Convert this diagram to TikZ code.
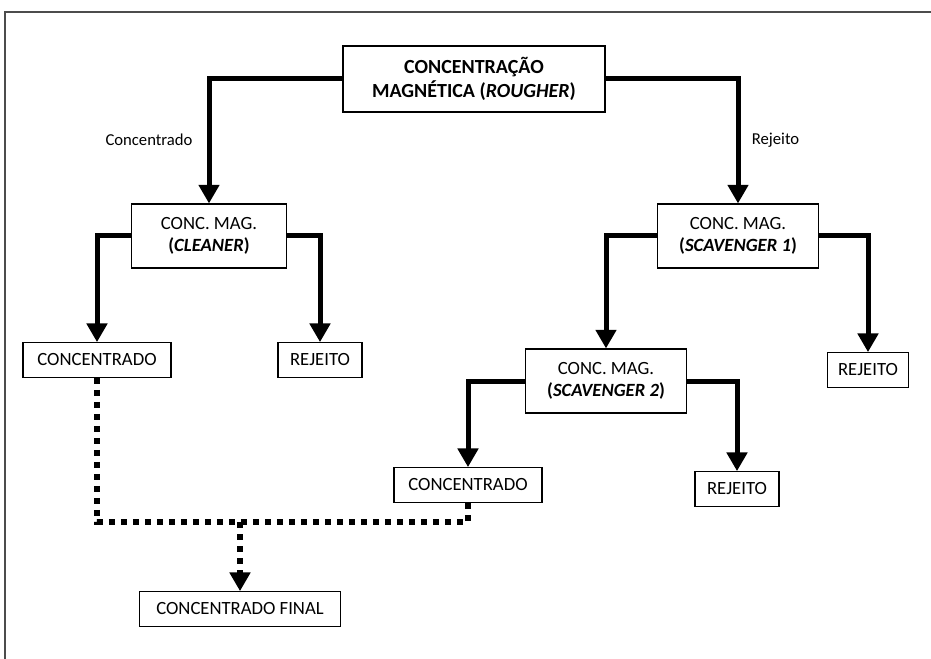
\documentclass[tikz,border=0pt]{standalone}
\usepackage{fontspec}
\setmainfont{Carlito}
\usetikzlibrary{arrows.meta}
\begin{document}
\begin{tikzpicture}[x=0.75pt, y=-0.75pt,
		every node/.style={draw, thick, align=center, font=\fontsize{14}{16.5}\selectfont, inner sep=2pt},
		flow/.style={line width=3.75pt, -{Triangle[width=15pt,length=14pt]}},
		drop/.style={line width=4.5pt, dash pattern=on 4.5pt off 4.5pt, -{Triangle[width=15pt,length=14pt]}},
		tag/.style={draw=none, font=\fontsize{12.5}{14}\selectfont}]
		\useasboundingbox (0,0) rectangle (931,659);
		\draw[line width=1.5pt, gray!60!black] (931,12) -- (5,12) -- (5,659);
		\node[minimum width=196.5pt, minimum height=49.5pt, font=\bfseries\fontsize{15}{17.5}\selectfont] (rougher) at (474,79) {CONCENTRAÇÃO\\MAGNÉTICA (\textit{ROUGHER})};
		\node[minimum width=116pt, minimum height=48pt] (cleaner) at (209,236) {CONC. MAG.\\\textbf{(\textit{CLEANER})}};
		\node[minimum width=121pt, minimum height=48pt] (scav1) at (738,236) {CONC. MAG.\\\textbf{(\textit{SCAVENGER 1})}};
		\node[minimum width=121pt, minimum height=48pt] (scav2) at (606,381) {CONC. MAG.\\\textbf{(\textit{SCAVENGER 2})}};
		\node[minimum width=111pt, minimum height=26pt] (conc1) at (97,360) {CONCENTRADO};
		\node[minimum width=63pt, minimum height=26pt] (rej1) at (320,360) {REJEITO};
		\node[minimum width=61pt, minimum height=26pt] (rej2) at (868,370) {REJEITO};
		\node[minimum width=111pt, minimum height=26pt] (conc2) at (468,485) {CONCENTRADO};
		\node[minimum width=63pt, minimum height=26pt] (rej3) at (737,489) {REJEITO};
		\node[minimum width=151pt, minimum height=26pt] (final) at (240,609) {CONCENTRADO FINAL};
		\coordinate (join) at (240,522);
		\draw[flow] (rougher.west) -| node[tag, pos=0.745, left=10pt] {Concentrado} (cleaner.north);
		\draw[flow] (rougher.east) -| node[tag, pos=0.745, right=8pt] {Rejeito} (scav1.north);
		\draw[flow] (cleaner.west) -| (conc1.north);
		\draw[flow] (cleaner.east) -| (rej1.north);
		\draw[flow] (scav1.west) -| (scav2.north);
		\draw[flow] (scav1.east) -| (rej2.north);
		\draw[flow] (scav2.west) -| (conc2.north);
		\draw[flow] (scav2.east) -| (rej3.north);
		\draw[drop, -] (conc1.south) |- (join) -| (conc2.south);
		\draw[drop] (join) -- (final.north);
	\end{tikzpicture}
\end{document}
